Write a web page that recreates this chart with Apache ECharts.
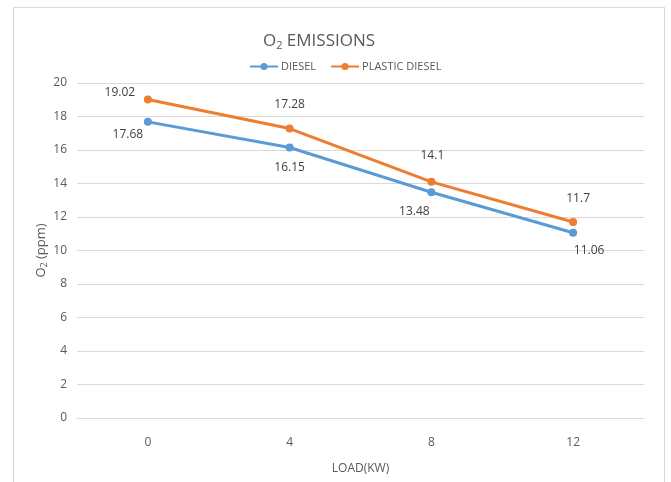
<!DOCTYPE html>
<html>
<head>
<meta charset="utf-8">
<script src="https://cdn.jsdelivr.net/npm/echarts@6/dist/echarts.min.js"></script>
<style>
  html, body { margin: 0; padding: 0; background: #fff; }
  #frame { position: absolute; left: 13px; top: 7px; width: 652px; height: 490px; border: 1px solid #d9d9d9; box-sizing: border-box; }
  #chart { position: absolute; left: 0; top: 0; width: 671px; height: 482px; }
</style>
</head>
<body>
<div id="frame"></div>
<div id="chart"></div>
<script>
// Engine load (kW) and O2 readings (ppm)
const loads = ['0', '4', '8', '12'];
const diesel = [17.68, 16.15, 13.48, 11.06];
const plasticDiesel = [19.02, 17.28, 14.1, 11.7];
const yTicks = { min: 0, max: 20, step: 2 };

const FONT = '"Open Sans", "Liberation Sans", sans-serif';
const TXT = '#595959';

// per-point label offsets so the value tags sit clear of the lines
const dieselLabelShift = [[-20, 13], [0, 20], [-17, 19], [16, 18]];
const plasticLabelShift = [[-28, -7], [0, -24], [1, -26], [5, -23]];

function withLabels(values, shifts) {
  return values.map((v, i) => ({
    value: v,
    label: { offset: shifts[i] }
  }));
}

const labelStyle = {
  show: true,
  position: 'inside',
  align: 'center',
  verticalAlign: 'middle',
  color: '#404040',
  fontSize: 12,
  fontFamily: FONT
};

const chart = echarts.init(document.getElementById('chart'), null, { renderer: 'canvas' });
chart.setOption({
  animation: false,
  backgroundColor: 'transparent',
  title: {
    text: 'O{sub|2} EMISSIONS',
    left: 314,
    top: 26,
    textAlign: 'center',
    textStyle: {
      fontFamily: FONT, fontSize: 17, fontWeight: 'normal', color: TXT,
      rich: {
        sub: { fontFamily: FONT, fontSize: 11, color: TXT, verticalAlign: 'bottom', padding: [9, 0, 0, 0] }
      }
    }
  },
  legend: {
    top: 56,
    left: 244,
    itemWidth: 28,
    itemHeight: 9,
    itemGap: 14,
    textStyle: { fontFamily: FONT, fontSize: 11, color: TXT, padding: [0, 0, 0, -2] },
    data: ['DIESEL', 'PLASTIC DIESEL']
  },
  grid: { left: 77, right: 27, top: 83, bottom: 64, containLabel: false },
  xAxis: {
    type: 'category',
    data: loads,
    boundaryGap: true,
    name: 'LOAD(KW)',
    nameLocation: 'middle',
    nameGap: 45,
    nameTextStyle: { fontFamily: FONT, fontSize: 12, color: TXT },
    axisLine: { show: true, lineStyle: { color: '#d9d9d9' } },
    axisTick: { show: false },
    axisLabel: { fontFamily: FONT, fontSize: 12, color: TXT, margin: 19 },
    splitLine: { show: false }
  },
  yAxis: {
    type: 'value',
    min: yTicks.min,
    max: yTicks.max,
    interval: yTicks.step,
    name: 'O{sub|2} (ppm)',
    nameLocation: 'middle',
    nameGap: 28,
    nameMoveOverlap: false,
    nameRotate: 90,
    nameTextStyle: {
      fontFamily: FONT, fontSize: 13, color: TXT,
      rich: { sub: { fontFamily: FONT, fontSize: 9, color: TXT, padding: [6, 0, 0, 0] } }
    },
    axisLine: { show: false },
    axisTick: { show: false },
    axisLabel: { fontFamily: FONT, fontSize: 12, color: TXT, margin: 10 },
    splitLine: { lineStyle: { color: '#d9d9d9', width: 1 } }
  },
  series: [
    {
      name: 'DIESEL',
      type: 'line',
      data: withLabels(diesel, dieselLabelShift),
      symbol: 'circle',
      symbolSize: 8,
      itemStyle: { color: '#5B9BD5' },
      lineStyle: { color: '#5B9BD5', width: 3 },
      label: labelStyle
    },
    {
      name: 'PLASTIC DIESEL',
      type: 'line',
      data: withLabels(plasticDiesel, plasticLabelShift),
      symbol: 'circle',
      symbolSize: 8,
      itemStyle: { color: '#ED7D31' },
      lineStyle: { color: '#ED7D31', width: 3 },
      label: labelStyle
    }
  ]
});
</script>
</body>
</html>
